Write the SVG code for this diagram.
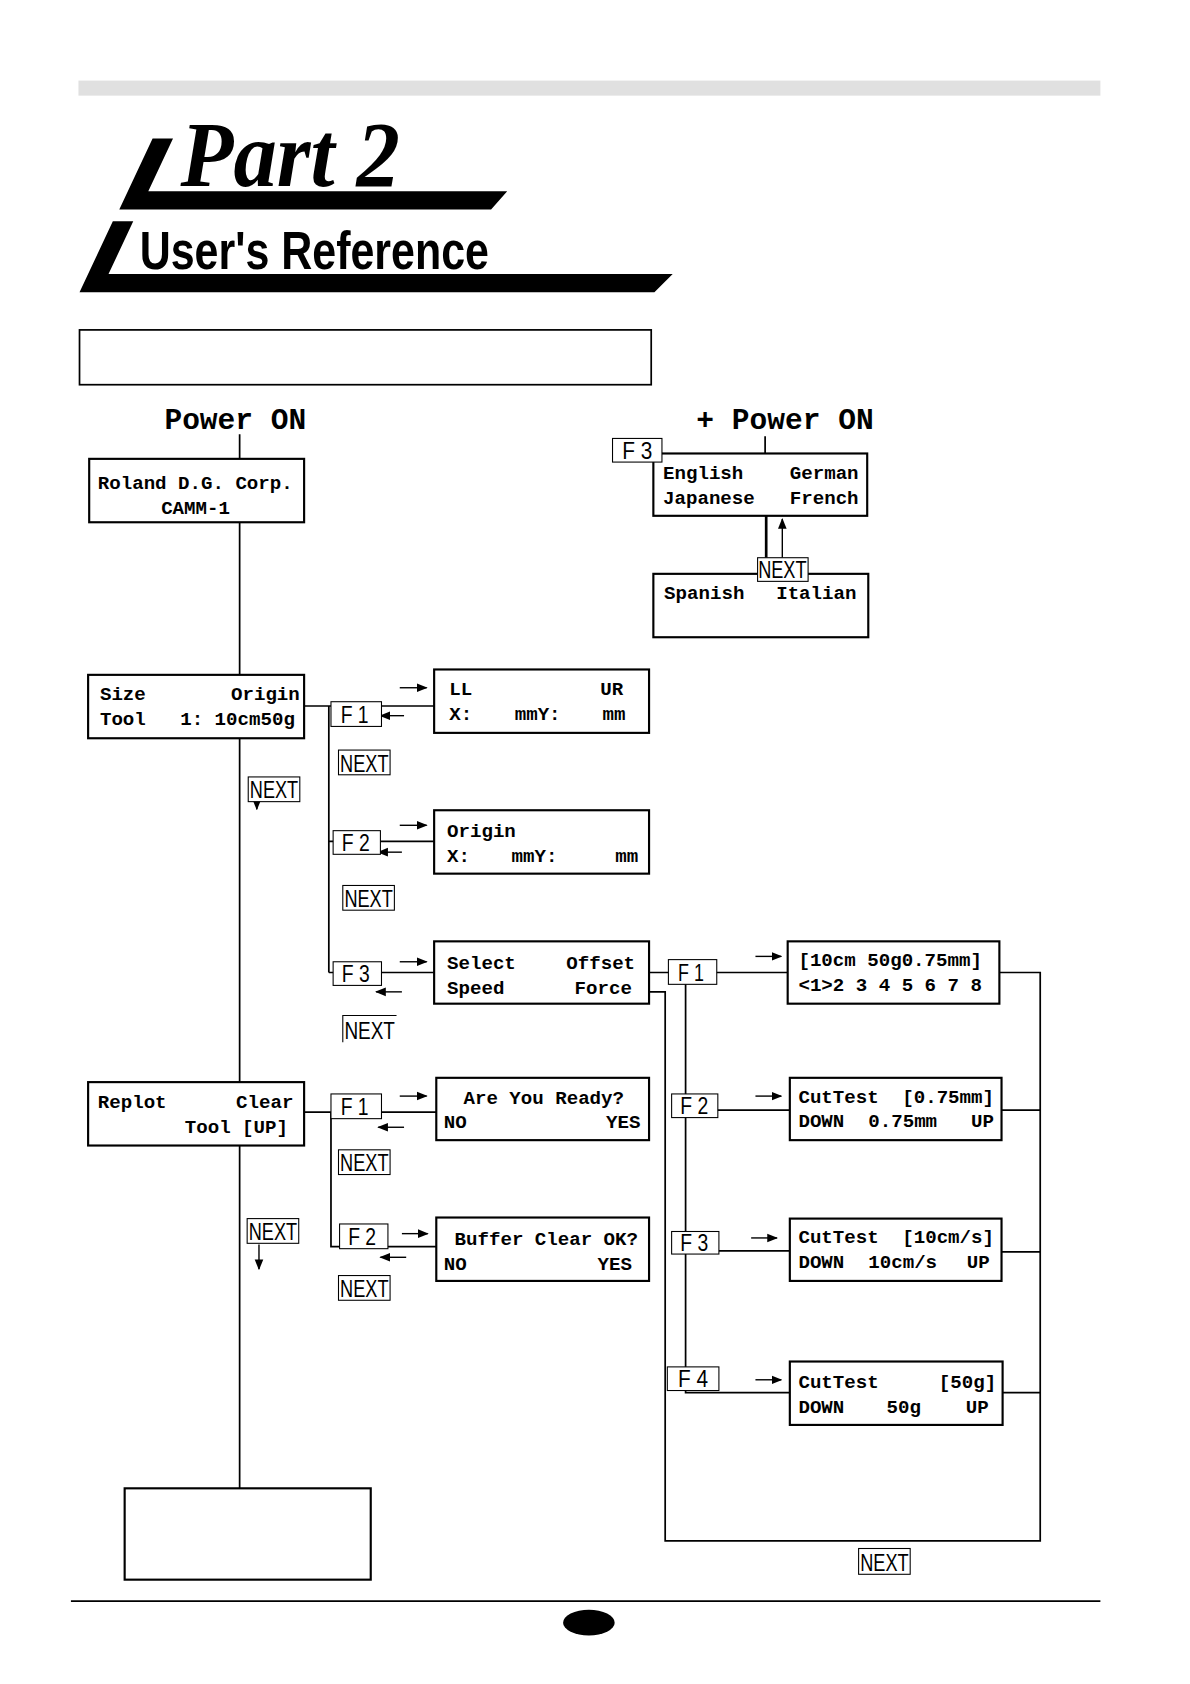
<svg xmlns="http://www.w3.org/2000/svg" width="1190" height="1684" viewBox="0 0 1190 1684">
<defs>
<style>
.box{fill:#fff;stroke:#000;stroke-width:2}
.lbl{fill:#fff;stroke:#000;stroke-width:1}
.ln{fill:none;stroke:#000;stroke-width:1.6}
.arr{fill:none;stroke:#000;stroke-width:1.3;marker-end:url(#ah)}
.m{font-family:"Liberation Mono","DejaVu Sans Mono",monospace;font-weight:bold;font-size:17.8px;fill:#000}
.e{text-anchor:end}
.c{text-anchor:middle}
.big{font-family:"Liberation Mono","DejaVu Sans Mono",monospace;font-weight:bold;font-size:27.5px;fill:#000}
.k{font-family:"Liberation Sans","Arial",sans-serif;font-size:22px;fill:#000;text-anchor:middle}
</style>
<marker id="ah" markerUnits="userSpaceOnUse" markerWidth="10" markerHeight="10" refX="9" refY="5" orient="auto" viewBox="0 0 10 10">
<path d="M0,1 L10,5 L0,9 Z" fill="#000"/>
</marker>
</defs>
<rect width="1190" height="1684" fill="#fff"/>
<g transform="scale(1.0746)">
<g id="header">
<rect x="73" y="75" width="951" height="14" fill="#e0e0e0"/>
<polygon points="142,129 161,129 138,178 472,178 457,195 111,195" fill="#000"/>
<text x="168" y="173" font-family="'Liberation Serif','Times New Roman',serif" font-style="italic" font-weight="bold" font-size="86" textLength="204" lengthAdjust="spacingAndGlyphs">Part 2</text>
<polygon points="105,206 124,206 101,255 626,255 609,272 74,272" fill="#000"/>
<text x="130" y="250" font-family="'Liberation Sans',Arial,sans-serif" font-weight="bold" font-size="50" textLength="325" lengthAdjust="spacingAndGlyphs">User's Reference</text>
<rect x="74" y="307" width="532" height="51" fill="none" stroke="#000" stroke-width="1.6"/>
</g>
<g id="connectors">
<line class="ln" x1="223" y1="404" x2="223" y2="1385"/>
<line class="ln" x1="712" y1="406" x2="712" y2="422"/>
<line x1="713" y1="480" x2="713" y2="519" stroke="#000" stroke-width="2.5"/>
<line class="arr" x1="728" y1="519" x2="728" y2="483"/>
<path class="ln" d="M283,657 H404 M306,657 V905 M306,783 H404 M306,905 H404"/>
<path class="ln" d="M283,1035 H406 M308,1035 V1160 H406"/>
<path class="ln" d="M604,905 H733 M604,923 H619 V1434 H968 V905 H930 M638,905 V1296 H735 M638,1033 H735 M638,1164 H735 M932,1033 H968 M932,1165 H968 M933,1296 H968"/>
<line class="arr" x1="372" y1="640" x2="397" y2="640"/>
<line class="arr" x1="376" y1="666" x2="354" y2="666"/>
<line class="arr" x1="372" y1="768" x2="397" y2="768"/>
<line class="arr" x1="374" y1="793" x2="352" y2="793"/>
<line class="arr" x1="372" y1="895" x2="397" y2="895"/>
<line class="arr" x1="374" y1="923" x2="350" y2="923"/>
<line class="arr" x1="372" y1="1020" x2="397" y2="1020"/>
<line class="arr" x1="376" y1="1049" x2="352" y2="1049"/>
<line class="arr" x1="374" y1="1148" x2="398" y2="1148"/>
<line class="arr" x1="378" y1="1170" x2="354" y2="1170"/>
<line class="arr" x1="703" y1="890" x2="727" y2="890"/>
<line class="arr" x1="703" y1="1020" x2="727" y2="1020"/>
<line class="arr" x1="699" y1="1152" x2="723" y2="1152"/>
<line class="arr" x1="703" y1="1284" x2="727" y2="1284"/>
<line class="arr" x1="239" y1="746" x2="239" y2="753"/>
<line class="arr" x1="241" y1="1158" x2="241" y2="1181"/>
</g>
<g id="power-on"><text class="big" x="153" y="399">Power ON</text></g>
<g id="power-on-f3"><text class="big" x="648" y="399">+ Power ON</text></g>
<g id="roland">
<rect class="box" x="83" y="427" width="200" height="59"/>
<text class="m" x="91" y="455">Roland D.G. Corp.</text>
<text class="m c" x="182" y="478">CAMM-1</text>
</g>
<g id="lang1">
<rect class="box" x="608" y="422" width="199" height="58"/>
<text class="m" x="617" y="446">English</text><text class="m e" x="799" y="446">German</text>
<text class="m" x="617" y="469">Japanese</text><text class="m e" x="799" y="469">French</text>
</g>
<g id="lang2">
<rect class="box" x="608" y="534" width="200" height="59"/>
<text class="m" x="618" y="557">Spanish</text><text class="m e" x="797" y="557">Italian</text>
</g>
<g id="size">
<rect class="box" x="82" y="628" width="201" height="59"/>
<text class="m" x="93" y="651">Size</text><text class="m e" x="279" y="651">Origin</text>
<text class="m" x="93" y="675" xml:space="preserve">Tool   1: 10cm50g</text>
</g>
<g id="llur">
<rect class="box" x="404" y="623" width="200" height="59"/>
<text class="m" x="418" y="647">LL</text><text class="m e" x="580" y="647">UR</text>
<text class="m" x="418" y="670">X:</text><text class="m" x="479" y="670">mmY:</text><text class="m e" x="582" y="670">mm</text>
</g>
<g id="origin">
<rect class="box" x="404" y="754" width="200" height="59"/>
<text class="m" x="416" y="779">Origin</text>
<text class="m" x="416" y="802">X:</text><text class="m" x="476" y="802">mmY:</text><text class="m e" x="594" y="802">mm</text>
</g>
<g id="select">
<rect class="box" x="404" y="876" width="200" height="58"/>
<text class="m" x="416" y="902">Select</text><text class="m e" x="591" y="902">Offset</text>
<text class="m" x="416" y="925">Speed</text><text class="m e" x="588" y="925">Force</text>
</g>
<g id="offset">
<rect class="box" x="733" y="876" width="197" height="58"/>
<text class="m" x="743" y="899">[10cm 50g0.75mm]</text>
<text class="m" x="743" y="922">&lt;1&gt;2 3 4 5 6 7 8</text>
</g>
<g id="cut-offset">
<rect class="box" x="735" y="1003" width="197" height="58"/>
<text class="m" x="743" y="1026">CutTest</text><text class="m e" x="925" y="1026">[0.75mm]</text>
<text class="m" x="743" y="1049">DOWN</text><text class="m" x="808" y="1049">0.75mm</text><text class="m e" x="925" y="1049">UP</text>
</g>
<g id="cut-speed">
<rect class="box" x="735" y="1134" width="197" height="58"/>
<text class="m" x="743" y="1157">CutTest</text><text class="m e" x="925" y="1157">[10cm/s]</text>
<text class="m" x="743" y="1180">DOWN</text><text class="m" x="808" y="1180">10cm/s</text><text class="m e" x="921" y="1180">UP</text>
</g>
<g id="cut-force">
<rect class="box" x="735" y="1267" width="198" height="59"/>
<text class="m" x="743" y="1292">CutTest</text><text class="m e" x="927" y="1292">[50g]</text>
<text class="m" x="743" y="1315">DOWN</text><text class="m" x="825" y="1315">50g</text><text class="m e" x="920" y="1315">UP</text>
</g>
<g id="replot">
<rect class="box" x="82" y="1007" width="201" height="59"/>
<text class="m" x="91" y="1031">Replot</text><text class="m e" x="273" y="1031">Clear</text>
<text class="m e" x="268" y="1054">Tool [UP]</text>
</g>
<g id="ready">
<rect class="box" x="406" y="1003" width="198" height="58"/>
<text class="m c" x="506" y="1027">Are You Ready?</text>
<text class="m" x="413" y="1050">NO</text><text class="m e" x="596" y="1050">YES</text>
</g>
<g id="buffer">
<rect class="box" x="406" y="1133" width="198" height="59"/>
<text class="m" x="423" y="1159">Buffer Clear OK?</text>
<text class="m" x="413" y="1182">NO</text><text class="m e" x="588" y="1182">YES</text>
</g>
<g id="blank-box"><rect class="box" x="116" y="1385" width="229" height="85"/></g>
<g id="keys">
<rect class="lbl" x="570" y="408" width="46" height="22"/><text class="k" x="593" y="427" textLength="28" lengthAdjust="spacingAndGlyphs">F 3</text>
<rect class="lbl" x="705" y="519" width="47" height="22"/><text class="k" x="728" y="538" textLength="45" lengthAdjust="spacingAndGlyphs">NEXT</text>
<rect class="lbl" x="308" y="653" width="47" height="23"/><text class="k" x="330" y="673" textLength="26" lengthAdjust="spacingAndGlyphs">F 1</text>
<rect class="lbl" x="315" y="698" width="48" height="23"/><text class="k" x="339" y="718" textLength="45" lengthAdjust="spacingAndGlyphs">NEXT</text>
<rect class="lbl" x="231" y="723" width="48" height="23"/><text class="k" x="255" y="743" textLength="45" lengthAdjust="spacingAndGlyphs">NEXT</text>
<rect class="lbl" x="310" y="773" width="44" height="22"/><text class="k" x="331" y="792" textLength="26" lengthAdjust="spacingAndGlyphs">F 2</text>
<rect class="lbl" x="319" y="824" width="48" height="23"/><text class="k" x="343" y="844" textLength="45" lengthAdjust="spacingAndGlyphs">NEXT</text>
<rect class="lbl" x="310" y="895" width="45" height="22"/><text class="k" x="331" y="914" textLength="26" lengthAdjust="spacingAndGlyphs">F 3</text>
<path d="M319,970 V945 H369" fill="none" stroke="#000" stroke-width="1"/><text class="k" x="344" y="967" textLength="47" lengthAdjust="spacingAndGlyphs">NEXT</text>
<rect class="lbl" x="622" y="893" width="45" height="23"/><text class="k" x="643" y="913" textLength="24" lengthAdjust="spacingAndGlyphs">F 1</text>
<rect class="lbl" x="625" y="1018" width="43" height="22"/><text class="k" x="646" y="1037" textLength="26" lengthAdjust="spacingAndGlyphs">F 2</text>
<rect class="lbl" x="625" y="1146" width="44" height="21"/><text class="k" x="646" y="1164" textLength="26" lengthAdjust="spacingAndGlyphs">F 3</text>
<rect class="lbl" x="621" y="1272" width="48" height="22"/><text class="k" x="645" y="1291" textLength="28" lengthAdjust="spacingAndGlyphs">F 4</text>
<rect class="lbl" x="308" y="1018" width="47" height="23"/><text class="k" x="330" y="1038" textLength="26" lengthAdjust="spacingAndGlyphs">F 1</text>
<rect class="lbl" x="315" y="1070" width="48" height="23"/><text class="k" x="339" y="1090" textLength="45" lengthAdjust="spacingAndGlyphs">NEXT</text>
<rect class="lbl" x="230" y="1134" width="48" height="23"/><text class="k" x="254" y="1154" textLength="45" lengthAdjust="spacingAndGlyphs">NEXT</text>
<rect class="lbl" x="316" y="1139" width="45" height="23"/><text class="k" x="337" y="1159" textLength="26" lengthAdjust="spacingAndGlyphs">F 2</text>
<rect class="lbl" x="315" y="1187" width="48" height="23"/><text class="k" x="339" y="1207" textLength="45" lengthAdjust="spacingAndGlyphs">NEXT</text>
<rect class="lbl" x="799" y="1441" width="48" height="24"/><text class="k" x="823" y="1462" textLength="45" lengthAdjust="spacingAndGlyphs">NEXT</text>
</g>
<g id="footer">
<line x1="66" y1="1490" x2="1024" y2="1490" stroke="#000" stroke-width="1.6"/>
<ellipse cx="548" cy="1510" rx="24" ry="12" fill="#000"/>
</g>
</g>
</svg>
